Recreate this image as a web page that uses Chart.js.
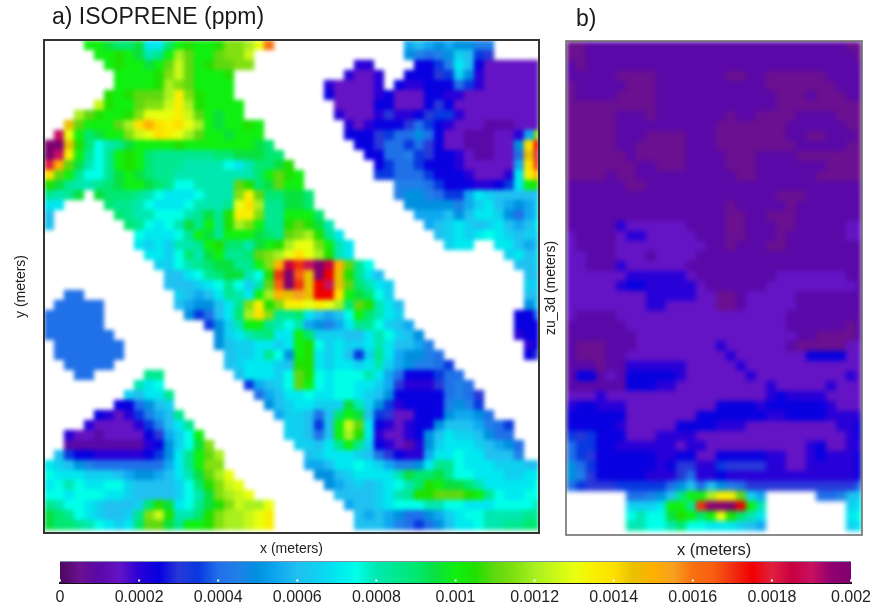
<!DOCTYPE html>
<html><head><meta charset="utf-8">
<style>html,body{margin:0;padding:0;background:#fff;width:884px;height:607px;overflow:hidden}canvas{position:absolute}</style>
<script src="https://cdn.jsdelivr.net/npm/chart.js@4"></script></head>
<body>
<canvas id="ca" width="556" height="558" style="left:0;top:0"></canvas>
<canvas id="cb" width="340" height="560" style="left:541px;top:0"></canvas>
<canvas id="cc" width="884" height="52" style="left:0;top:555px"></canvas>
<script>
// one character = one concentration level, in steps of 0.00005 ppm; "." = no data (building)
const levelKeys = "0123456789abcdefghijklmnopqrstuvwxyzABCDE";
const levelStep = 0.00005;
const levelColors = ["#4b0a5c","#6a1090","#5a08a8","#6414c4","#2800d8","#0800e0","#2838d8","#0838e0","#2070e8","#2080e8",
"#0090e0","#10a8f0","#20c0f0","#10d0f0","#00e8f0","#00ffe8","#00e8b0","#00e890","#00e870","#08e040",
"#10f010","#20e000","#60d810","#80e010","#a8f020","#c8f818","#e8ff10","#f8f000","#ffe000","#e8c000",
"#ffb000","#f8a020","#f87010","#f86010","#f03010","#f00000","#e02040","#c80040","#c81060","#900070","#800070"];
const panelARows = [
"....k kjiij eeikl kklnn oqw.. ..... ..... .bcba baa99 .....",
"..... kklkj ghkom kkmnn p.... ..... ..... .a989 adc76 .....",
"..... .klkk jkmpm klmmn n.... ..... .44.. ..557 9ec53 33333",
"..... ..kkk klnpm kkkl. ..... ..... 4334. .5556 7da43 33333",
"..... ..kkk klonm kkkk. ..... ...43 3334. 54455 58743 33333",
"..... .lklm mmorn lkkk. ..... ...53 33345 33355 44333 33333",
"..... plkkm nnpro lkkkk ..... ....3 33355 33356 53333 33333",
"...om lkkln qqqrp mkjkk ..... ....4 33346 44567 74333 33333",
"..tmk kkmos usrsq okjkk lk... ..... 43455 56875 43332 22333",
".Cqki jkknp qsrqo mkkjk kk... ..... 55567 88a85 33222 334bn",
"EEtli fghjk kkklk kkkkk kji.. ..... .5568 87865 33222 33asz",
"ECrkh fhklk ihhhh hhiij jjii. ..... ..558 89765 54322 338tA",
"Aumjg fhklk ihhhg gggfe giijl ..... ...57 88755 54333 33bsy",
"smkhf fhjkj ihhgg ggggg gikml k.... ...77 88875 55433 34eru",
"ljhgg hijkk jihff ggggm lijmk k.... ..... 99987 55544 57ekl",
"hghj. jiiih gfeee fgggn rmiij ji... ..... 9aa98 77bed ccccc",
"ee... .ihhg feeef ggghq sohhj ji... ..... .aaaa a9bde cbabd",
"c.... ..ihg gfffg hjhlr rnhhk kki.. ..... ..bbb cacee da8bd",
"c.... ...ih fefgj hkhlo nkhhl mljg. ..... ...bc dedcd ecbce",
"..... ....f eeefh kjhkk kjihm nolhe ..... ....c dedef edcdd",
"..... ....e dedgg hklii gjklo qqnkg e.... ..... dee.. eecbc",
"..... ..... eedfi gjkhh imnoq sqolg e.... ..... ..... .decd",
"..... ..... .ddfg hijjh hknuB yCEBu mhf.. ..... ..... ..ccd",
"..... ..... ..cce fhijj gflyE xtEzt lhec. ..... ..... ...cc",
"..... ..... ..ccc defhf dgmxE ytzCt miged ..... ..... ...dd",
"..88. ..... ...dc bcehg ekout vtzzs kjifd ..... ..... ...cc",
".8888 8.... ...cb aaceh nrlnr rqrqo imlge c.... ..... ...ac",
"88888 8.... ....a 78cei osnhh iecbc fkige d.... ..... ..558",
"88888 8.... ..... .7adg kkhgf gba9b ehhfd cb... ..... ..555",
"88888 88... ..... ..ade ghiee kiddd ccegf dca.. ..... ..455",
".8888 888.. ..... ..acd deede klfde ddege ccb9. ..... ...45",
".8888 888.. ..... ...cd dehfa klede c7dhe baa98 ..... ...56",
"..888 88... ..... ...cd eeedc llede edegd ba998 7.... .....",
"...88 ..... hh... ....c eeedf mlfef ffgeb 85557 88... .....",
"..... ....g ef... ..... 7bcdf mkfef feedb 64446 898.. .....",
"..... ...dc eeh.. ..... .8bce efeef fedca 55555 8986. .....",
"..... ..558 acd.. ..... ..acd eeddd jgda7 45555 9a97. .....",
"..... 54347 9bch. ..... ...bd dc8ci kjc76 33555 abba8 .....",
"....4 33334 79ceh ..... ....d dc7ck pme54 3455a cccb9 87...",
"..433 23333 56bdf k.... ....d dc8ck ole43 345ac eddca 88...",
"..222 22222 45adf jn... ..... ddceh khd54 324ad eeedc ba8..",
".c755 44444 57aeh kmo.. ..... .cdee edc86 544be efeec cc9..",
"edca9 88888 88beh knn.. ..... .bbce efedb 99aeh hfeee dddcc",
"feeed ddcba abceg jmoq. ..... ..aac deeee gjiij hffee eddee",
"efgfe effdc cccdf ilnpq ..... ...ab cdcde fgilk jjige eeeef",
"ffeff feedc cccdf gjnop q.... ....c cccde ghllm mmlkh feeff",
"hgffe dcccd iljef hjlnp ooq.. ..... bccde fffgg ffeee ffffg",
"jihfe dccdh nplgg ilnoo pqr.. ..... .cbcb a88ab deffg ggghh",
"jiihg fedei mmjhk klnoo pqr.. ..... .cccb 9878a ceefg ghhii"
];
const panelBRows = [
"11222 22222 22222 22222 22222 22211",
"11222 22222 22222 22222 22222 22221",
"21222 22222 22222 22222 22222 22222",
"22222 11112 22222 21122 11111 12222",
"12222 21112 22222 22222 11111 11222",
"12222 11112 22222 22222 21112 11122",
"11111 11112 22222 22222 21111 11111",
"11111 22212 22222 21221 11122 22111",
"11111 22222 22222 11111 11222 22211",
"11111 22211 11222 11111 11221 12221",
"11111 22111 11222 11111 11122 22211",
"11111 12111 11222 21112 22211 11111",
"11111 11221 11222 21112 22222 21111",
"11112 11222 22222 22112 22222 11111",
"22222 21122 22222 22222 22222 22222",
"22222 22222 22222 22222 21112 22222",
"22222 22222 22222 21222 22122 22222",
"22222 22222 22222 21122 11122 22222",
"22222 43333 33222 21122 21122 22233",
"32222 34433 33322 21122 21222 22233",
"32222 33333 33332 21222 11222 22222",
"33222 33323 33322 22222 22222 22222",
"33222 43333 33222 22222 22222 22222",
"33333 34444 44322 22222 23333 33322",
"33333 45544 44432 22222 33333 33332",
"33333 33344 44433 11233 33322 22222",
"33333 33344 33333 11233 33322 22222",
"32222 33333 33333 33333 33222 22222",
"22222 23333 33333 33333 33222 22212",
"22222 22333 33333 33333 33322 11112",
"21112 22333 33333 43333 33211 11133",
"21112 23333 33333 34333 33335 55533",
"22212 24444 44333 33433 33333 33333",
"25523 25555 54333 33343 33333 33343",
"22222 25554 43333 33333 43333 34333",
"33343 33333 33333 33333 45444 43333",
"45544 43333 33333 55554 55555 54333",
"55555 53333 33355 55555 44555 54444",
"55555 43333 35555 44433 33333 33445",
"76755 53334 44433 33333 33333 33345",
"87755 44444 43443 33333 33334 53344",
"87655 55554 45533 55555 44334 54445",
"a8755 55554 56644 76666 44334 44445",
"a9655 55544 46844 54444 44444 44445",
"87666 77777 8ac8c a9866 66666 66668",
"..... .889a chkko rrmdb ..... 889cd",
"..... .ddde kkhyD EEzkg ..... ...de",
"..... .fgff jlkik qlige ..... ...ef",
"..... .ggff giffe eedcb ..... ...de"
];
const colorbarRange = [0, 0.002];
const tickValues = [0,0.0002,0.0004,0.0006,0.0008,0.001,0.0012,0.0014,0.0016,0.0018,0.002];
const tickLabels = ["0","0.0002","0.0004","0.0006","0.0008","0.001","0.0012","0.0014","0.0016","0.0018","0.002"];

const FONT = '"Liberation Sans", Arial, sans-serif';
function cells(rows){
  const pts=[],cols=[];
  rows.forEach((raw,r)=>{
    raw.replace(/ /g,"").split("").forEach((ch,c)=>{
      const lv=levelKeys.indexOf(ch);
      if(lv<0) return;
      pts.push({x:c+0.5,y:r+0.5,v:lv*levelStep});
      cols.push(levelColors[lv]);
    });
  });
  return {pts,cols};
}
const shift=(dx)=>({id:"shift",afterLayout(ch){ch.titleBlock.left+=dx;ch.titleBlock.right+=dx;}});
// soften the cell edges into contours, then draw the frame
const finish=(color,w,blur)=>({id:"finish",afterDatasetsDraw(ch){
  const a=ch.chartArea,c=ch.ctx,cv=c.canvas;
  const tmp=document.createElement("canvas");tmp.width=cv.width;tmp.height=cv.height;
  tmp.getContext("2d").drawImage(cv,0,0);
  c.save();
  c.beginPath();c.rect(a.left,a.top,a.right-a.left,a.bottom-a.top);c.clip();
  c.fillStyle="#fff";c.fillRect(a.left,a.top,a.right-a.left,a.bottom-a.top);
  c.filter="blur("+blur+"px)";c.drawImage(tmp,0,0);c.filter="none";
  c.restore();
  c.save();c.strokeStyle=color;c.lineWidth=w;c.strokeRect(a.left,a.top,a.right-a.left,a.bottom-a.top);c.restore();
}});
function panel(id,rows,o){
  const d=cells(rows);
  return new Chart(document.getElementById(id),{
    type:"scatter",
    data:{datasets:[{data:d.pts,pointBackgroundColor:d.cols,pointBorderWidth:0,pointStyle:"rect",pointRadius:7.25,showLine:false}]},
    options:{responsive:false,animation:false,events:[],
      layout:{padding:{right:o.padR,left:0,top:0,bottom:0}},
      plugins:{legend:{display:false},tooltip:{enabled:false},
        title:{display:true,text:o.title,fullSize:false,align:"start",color:"#1a1a1a",font:{family:FONT,size:o.tFont,weight:"normal",lineHeight:1.2},padding:o.titlePad}},
      scales:{
        x:{type:"linear",min:0,max:o.w/10,grid:{display:false},border:{display:false},ticks:{display:false},
           title:{display:true,text:"x (meters)",color:"#222",font:{family:FONT,size:o.xFont},padding:0},
           afterFit(s){s.height=o.xH;}},
        y:{type:"linear",reverse:true,min:0,max:o.h/10,grid:{display:false},border:{display:false},ticks:{display:false},
           title:{display:true,text:o.yText,color:"#222",font:{family:FONT,size:o.yFont},padding:{top:o.yPad,bottom:0}},
           afterFit(s){s.width=o.yW;}}
      }},
    plugins:[shift(o.dx),finish(o.frame,o.frameW,o.blur)]
  });
}
panel("ca",panelARows,{title:"a) ISOPRENE (ppm)",tFont:23,titlePad:{top:4,bottom:8.4},w:495,h:493,padR:17,xH:25,yW:44,xFont:14,yFont:14,yPad:13,yText:"y (meters)",dx:8,frame:"#333",frameW:2,blur:2});
panel("cb",panelBRows,{title:"b)",tFont:23,titlePad:{top:6,bottom:7.4},w:296,h:494,padR:19,xH:25,yW:25,xFont:16.5,yFont:14,yPad:2,yText:"zu_3d (meters)",dx:10,frame:"#666",frameW:1.5,blur:2.5});

new Chart(document.getElementById("cc"),{
  type:"bar",
  data:{labels:["ppm"],datasets:[{data:[colorbarRange],barPercentage:1,categoryPercentage:1,borderWidth:0,
    backgroundColor(ctx){
      const a=ctx.chart.chartArea; if(!a) return levelColors[0];
      const g=ctx.chart.ctx.createLinearGradient(a.left,0,a.right,0);
      levelColors.forEach((c,i)=>g.addColorStop(i/(levelColors.length-1),c));
      return g;
    }}]},
  options:{indexAxis:"y",responsive:false,animation:false,events:[],
    layout:{padding:{left:60,right:33,top:6,bottom:0}},
    plugins:{legend:{display:false},tooltip:{enabled:false}},
    scales:{
      y:{display:false},
      x:{type:"linear",min:colorbarRange[0],max:colorbarRange[1],
        grid:{display:false,drawTicks:false},border:{display:true,color:"#111",width:2},
        afterBuildTicks(s){s.ticks=tickValues.map(v=>({value:v}));},
        ticks:{color:"#222",font:{family:FONT,size:16},padding:5,maxRotation:0,autoSkip:false,
          callback(v){return tickLabels[tickValues.indexOf(v)];}},
        afterFit(s){s.height=24;}}
    }},
  plugins:[{id:"marks",afterDatasetsDraw(ch){
    const c=ch.ctx,a=ch.chartArea,s=ch.scales.x;c.save();
    c.fillStyle="#fff";tickValues.forEach(v=>c.fillRect(s.getPixelForValue(v)-1,a.bottom-3.5,2,2));
    c.fillStyle="#7b8fa8";c.fillRect(a.left,a.top,a.right-a.left,1);
    c.restore();}}]
});
</script>
</body></html>
